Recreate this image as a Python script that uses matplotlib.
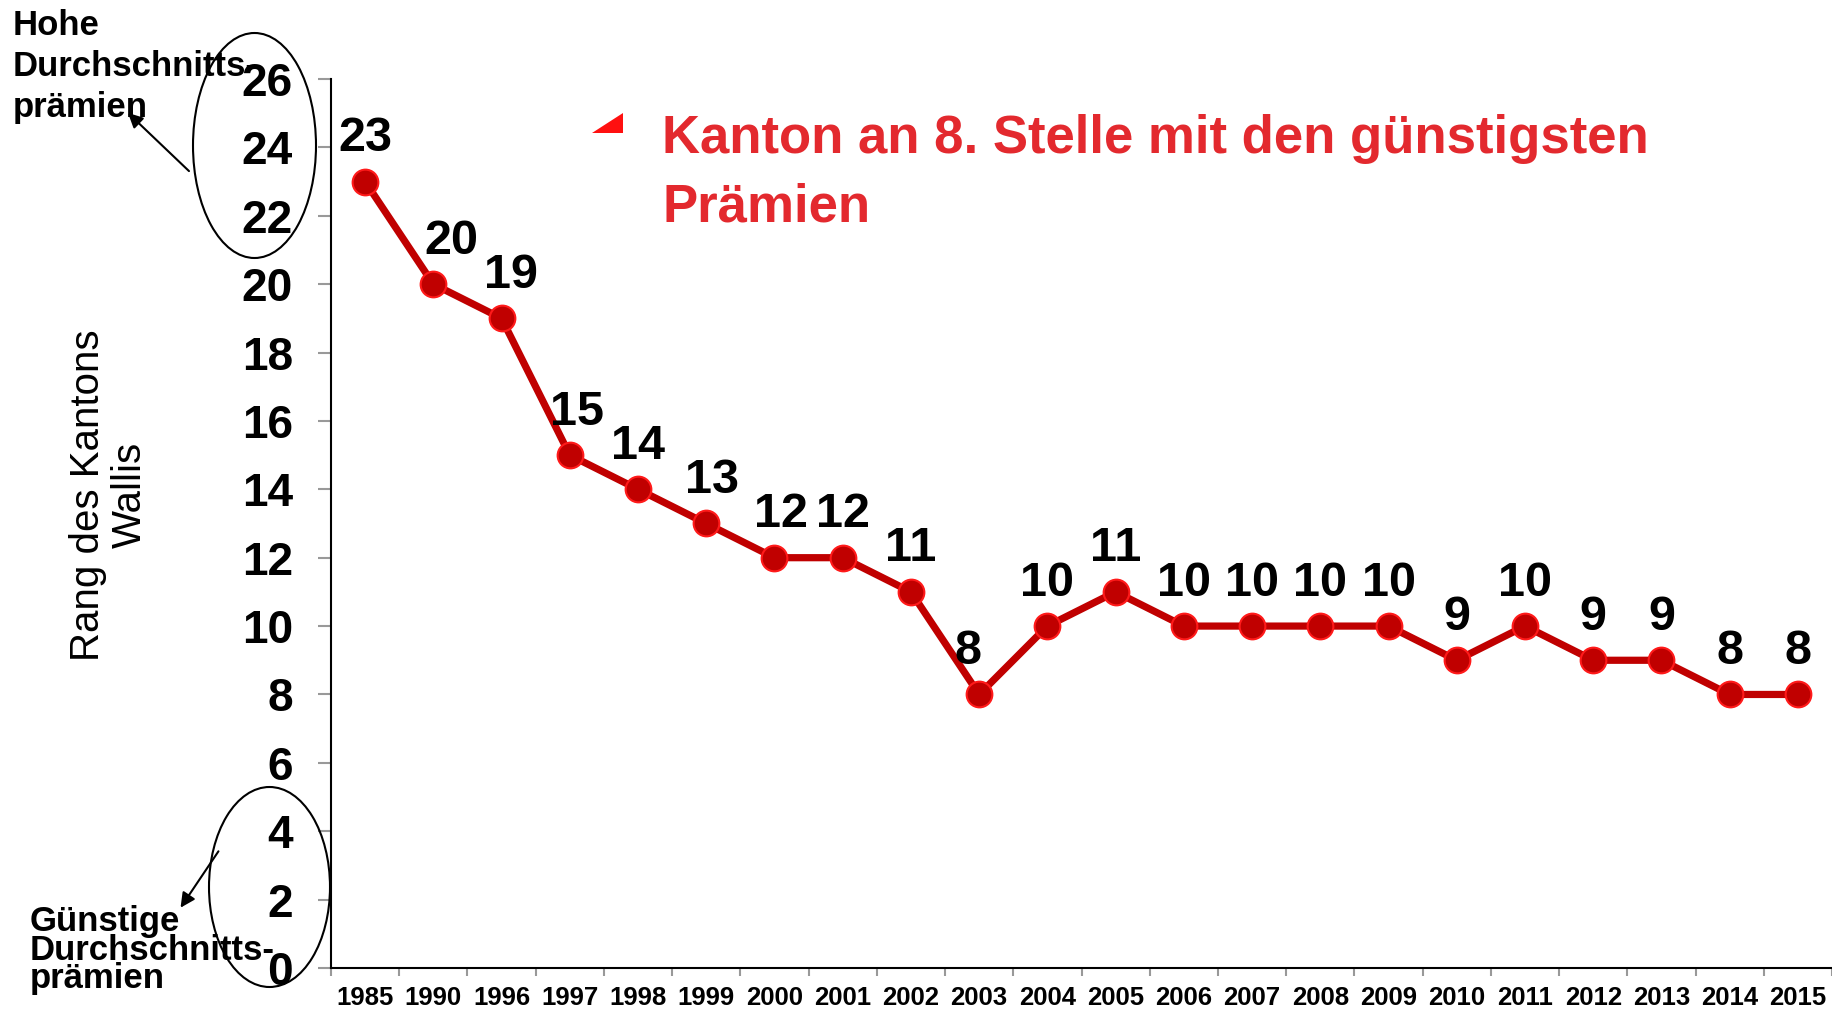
import matplotlib
matplotlib.use("Agg")
import matplotlib.pyplot as plt
from matplotlib.patches import Ellipse, Polygon, FancyArrowPatch
from matplotlib.ticker import FixedLocator

plt.rcParams['font.family'] = ['Liberation Sans', 'DejaVu Sans']

years = ["1985", "1990", "1996", "1997", "1998", "1999", "2000", "2001", "2002", "2003",
         "2004", "2005", "2006", "2007", "2008", "2009", "2010", "2011", "2012", "2013",
         "2014", "2015"]
ranks = [23, 20, 19, 15, 14, 13, 12, 12, 11, 8, 10, 11, 10, 10, 10, 10, 9, 10, 9, 9, 8, 8]
yticks = list(range(0, 27, 2))

# small horizontal nudges (points) of a few value labels, as in the reference
label_nudge = {1: 13, 2: 7, 3: 5, 5: 4, 6: 5, 9: -8}

W, H = 1832, 1013
DPI = 100
fig = plt.figure(figsize=(W / DPI, H / DPI), dpi=DPI)

def fx(px):
    return px / W

def fy(py):
    return 1 - py / H

ax_left, ax_right, ax_top, ax_bottom = 331, 1832, 79, 968
ax = fig.add_axes([fx(ax_left), fy(ax_bottom), (ax_right - ax_left) / W, (ax_bottom - ax_top) / H])

x = list(range(len(years)))
ax.plot(x, ranks, color='#C00000', lw=5.2, marker='o', ms=18.5,
        markerfacecolor='#C00000', markeredgecolor='#FF1A1A', markeredgewidth=1.5,
        clip_on=False, zorder=3)

for xi, r in zip(x, ranks):
    ax.annotate(str(r), (xi, r), xytext=(label_nudge.get(xi, 0), 22), textcoords='offset points',
                ha='center', va='baseline', fontsize=35, fontweight='bold', color='black')

ax.set_xlim(-0.5, len(years) - 0.5)
ax.set_ylim(0, 26)
ax.set_yticks(yticks)
ax.set_yticklabels([str(t) for t in yticks], fontsize=33, fontweight='bold')
ax.set_xticks(x)
ax.set_xticklabels(years, fontsize=18.5, fontweight='bold')
ax.xaxis.set_minor_locator(FixedLocator([i - 0.5 for i in range(len(years) + 1)]))
ax.tick_params(axis='x', which='major', length=0, pad=13)
ax.tick_params(axis='x', which='minor', length=6, width=1.5, color='#999999', direction='out')
ax.tick_params(axis='y', which='major', length=9.5, width=1.5, color='#999999', pad=18, direction='out')

for s in ['top', 'right']:
    ax.spines[s].set_visible(False)
for s in ['left', 'bottom']:
    ax.spines[s].set_color('black')
    ax.spines[s].set_linewidth(1.5)

# y-axis label
fig.text(fx(109), fy(495), "Rang des Kantons\nWallis", rotation=90, ha='center', va='center',
         multialignment='center', fontsize=29, color='black', linespacing=1.15)

# title text in red
fig.text(fx(662), fy(153), "Kanton an 8. Stelle mit den günstigsten", ha='left', va='baseline',
         fontsize=38, fontweight='bold', color='#E3292E')
fig.text(fx(662), fy(221), "Prämien", ha='left', va='baseline',
         fontsize=38, fontweight='bold', color='#E3292E')
tri = Polygon([[fx(592), fy(133)], [fx(623), fy(133)], [fx(623), fy(113)]], closed=True,
              transform=fig.transFigure, facecolor='#FF1010', edgecolor='none')
fig.add_artist(tri)

# side annotations
for txt, by in [("Hohe", 35), ("Durchschnitts-", 76), ("prämien", 117)]:
    fig.text(fx(13), fy(by), txt, ha='left', va='baseline', fontsize=25, fontweight='bold')
for txt, by in [("Günstige", 931), ("Durchschnitts-", 960), ("prämien", 988)]:
    fig.text(fx(30), fy(by), txt, ha='left', va='baseline', fontsize=25, fontweight='bold')

e1 = Ellipse((fx(254.5), fy(145.5)), 123 / W, 225 / H, transform=fig.transFigure,
             fill=False, edgecolor='black', lw=1.5)
e2 = Ellipse((fx(269.5), fy(887)), 121 / W, 200 / H, transform=fig.transFigure,
             fill=False, edgecolor='black', lw=1.5)
fig.add_artist(e1)
fig.add_artist(e2)

fig.add_artist(FancyArrowPatch((fx(191), fy(173)), (fx(126), fy(111)),
               transform=fig.transFigure, arrowstyle='-|>', mutation_scale=22, color='black', lw=1.5))
fig.add_artist(FancyArrowPatch((fx(220), fy(849)), (fx(179), fy(910)),
               transform=fig.transFigure, arrowstyle='-|>', mutation_scale=22, color='black', lw=1.5))

fig.savefig("out.png", dpi=DPI, facecolor='white')
